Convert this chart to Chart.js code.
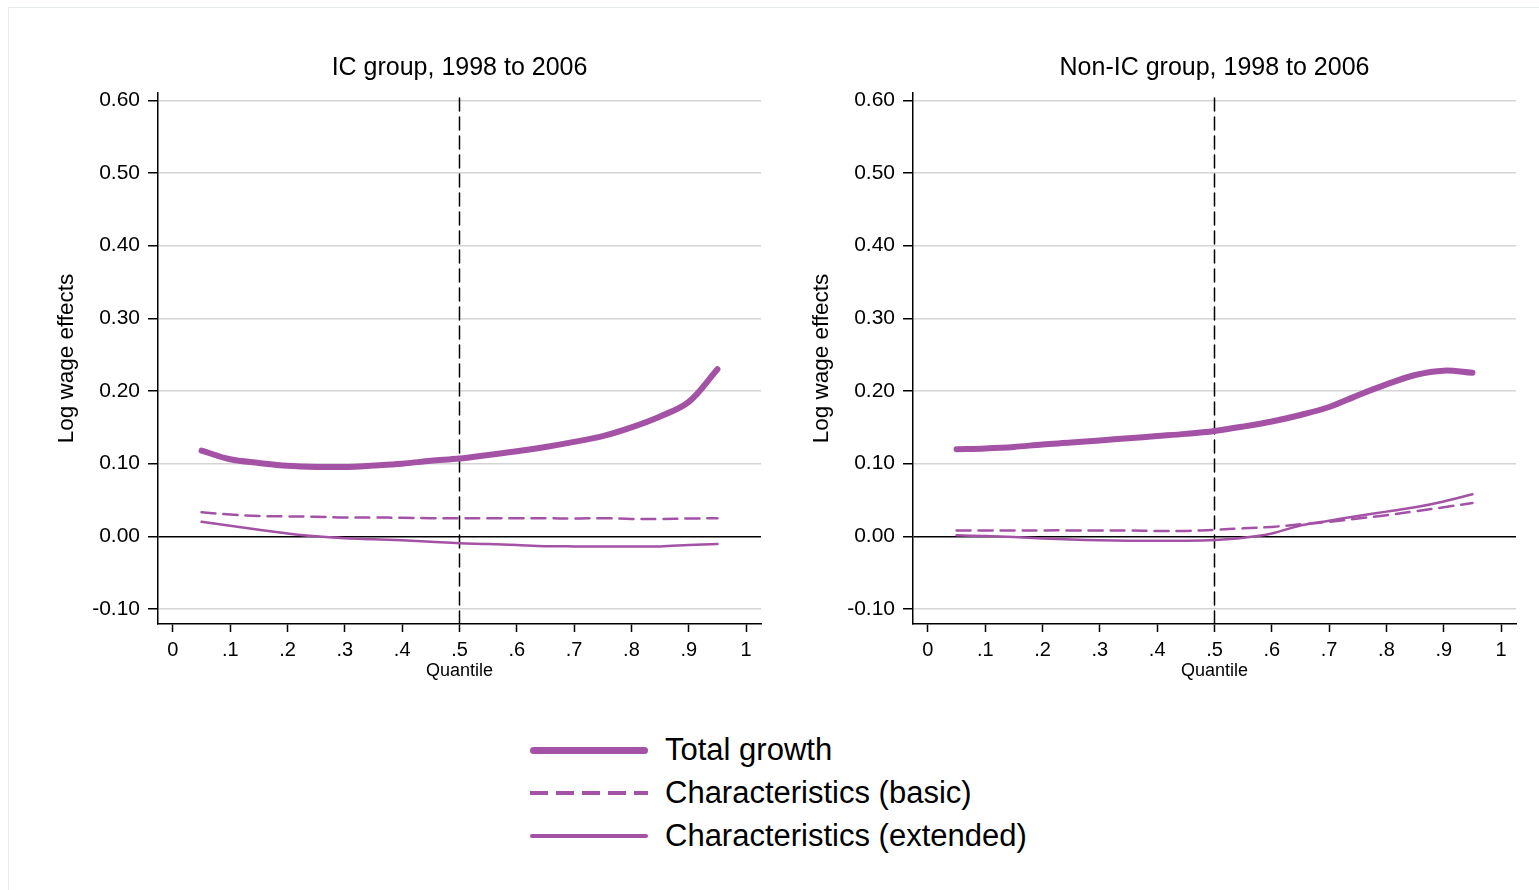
<!DOCTYPE html>
<html>
<head>
<meta charset="utf-8">
<script src="https://cdn.jsdelivr.net/npm/chart.js@4.4.1/dist/chart.umd.min.js"></script>
<style>
  html, body { margin: 0; padding: 0; background: #fff; }
  body { width: 1539px; height: 890px; position: relative; overflow: hidden; font-family: "Liberation Sans", Arial, sans-serif; }
  .frame { position: absolute; left: 8px; top: 7px; width: 1540px; height: 900px; border: 1px solid #e6eced; }
  .pane { position: absolute; top: 0; width: 770px; height: 700px; }
  .legend { position: absolute; left: 530px; top: 720px; }
  .row { position: absolute; left: 0; height: 40px; width: 600px; }
  .sw { position: absolute; left: 0; width: 118px; top: 50%; }
  .lbl { position: absolute; left: 135px; top: 50%; transform: translateY(-50%); font-size: 31px; color: #000; white-space: nowrap; }
</style>
</head>
<body>
<div class="frame"></div>
<div class="pane" style="left:0"><canvas id="c-ic"></canvas></div>
<div class="pane" style="left:755px"><canvas id="c-nonic"></canvas></div>

<div class="legend">
  <div class="row" style="top:10px">
    <div class="sw" style="height:7px;margin-top:-3.5px;background:#a452a6;border-radius:4px"></div>
    <div class="lbl">Total growth</div>
  </div>
  <div class="row" style="top:53px">
    <div class="sw" style="height:3.5px;margin-top:-1.75px;background:repeating-linear-gradient(90deg,#a452a6 0 18px,transparent 18px 26px)"></div>
    <div class="lbl">Characteristics (basic)</div>
  </div>
  <div class="row" style="top:96px">
    <div class="sw" style="height:3.5px;margin-top:-1.75px;background:#a452a6;border-radius:2px"></div>
    <div class="lbl">Characteristics (extended)</div>
  </div>
</div>

<script>
// quantiles where the decomposition is evaluated
const quantiles = [0.05, 0.10, 0.15, 0.20, 0.25, 0.30, 0.35, 0.40, 0.45, 0.50,
                   0.55, 0.60, 0.65, 0.70, 0.75, 0.80, 0.85, 0.90, 0.95];

// IC group, 1998 to 2006
const icTotal    = [0.118, 0.106, 0.101, 0.097, 0.0955, 0.0955, 0.0975, 0.100, 0.104, 0.107,
                    0.112, 0.117, 0.123, 0.130, 0.138, 0.150, 0.165, 0.185, 0.230];
const icBasic    = [0.033, 0.030, 0.028, 0.0275, 0.027, 0.026, 0.026, 0.0255, 0.025, 0.025,
                    0.025, 0.025, 0.025, 0.0245, 0.025, 0.024, 0.024, 0.0245, 0.025];
const icExtended = [0.020, 0.0145, 0.009, 0.004, 0.000, -0.0025, -0.004, -0.0055, -0.0075, -0.0095,
                    -0.0105, -0.012, -0.0135, -0.0138, -0.0138, -0.0138, -0.0138, -0.012, -0.0105];

// Non-IC group, 1998 to 2006
const nonTotal    = [0.120, 0.121, 0.123, 0.1265, 0.129, 0.132, 0.135, 0.138, 0.141, 0.145,
                     0.151, 0.158, 0.167, 0.178, 0.194, 0.209, 0.222, 0.228, 0.225];
const nonBasic    = [0.008, 0.008, 0.008, 0.0082, 0.0082, 0.008, 0.008, 0.0075, 0.0075, 0.009,
                     0.011, 0.013, 0.0165, 0.020, 0.0245, 0.029, 0.0345, 0.040, 0.046];
const nonExtended = [0.0014, 0.0005, -0.001, -0.003, -0.0045, -0.0055, -0.006, -0.006, -0.006, -0.005,
                     -0.002, 0.004, 0.015, 0.0215, 0.028, 0.034, 0.040, 0.048, 0.058];

const xTicks = [0, 0.1, 0.2, 0.3, 0.4, 0.5, 0.6, 0.7, 0.8, 0.9, 1];
const xTickLabels = ['0', '.1', '.2', '.3', '.4', '.5', '.6', '.7', '.8', '.9', '1'];
const yTicks = [-0.1, 0, 0.1, 0.2, 0.3, 0.4, 0.5, 0.6];
const yTickLabels = ['-0.10', '0.00', '0.10', '0.20', '0.30', '0.40', '0.50', '0.60'];
const medianQuantile = 0.5;

const PURPLE = '#a452a6';
const FONT = '"Liberation Sans", Arial, sans-serif';
const Y_MIN = -0.1206, Y_MAX = 0.61;
const X_MIN = -0.026, X_MAX = 1.026;

function pts(vals) {
  return quantiles.map((q, i) => ({ x: q, y: vals[i] }));
}

function makeChart(id, title, total, basic, extended) {
  const ctx = document.getElementById(id);
  return new Chart(ctx, {
    type: 'line',
    data: {
      datasets: [
        { data: pts(total), borderColor: PURPLE, borderWidth: 6, order: 1 },
        { data: pts(basic), borderColor: PURPLE, borderWidth: 2.5, borderDash: [14, 8], order: 2 },
        { data: pts(extended), borderColor: PURPLE, borderWidth: 2.5, order: 3 },
        {
          data: [{ x: medianQuantile, y: Y_MIN }, { x: medianQuantile, y: Y_MAX }],
          borderColor: '#000', borderWidth: 1.5, borderDash: [13, 6], order: 10, tension: 0,
        },
      ],
    },
    options: {
      responsive: false,
      animation: false,
      events: [],
      layout: { padding: { left: 0, right: 9, top: 0, bottom: 0 } },
      elements: {
        point: { radius: 0 },
        line: { tension: 0.35, borderCapStyle: 'round', borderJoinStyle: 'round', fill: false },
      },
      plugins: {
        legend: { display: false },
        tooltip: { enabled: false },
        title: {
          display: true, text: title, color: '#000', fullSize: false,
          font: { family: FONT, size: 25, weight: 'normal' },
          padding: { top: 53, bottom: 10 },
        },
      },
      scales: {
        x: {
          type: 'linear', min: X_MIN, max: X_MAX,
          afterFit: s => { s.height = 76; },
          afterBuildTicks: s => { s.ticks = xTicks.map(v => ({ value: v })); },
          ticks: {
            autoSkip: false, maxRotation: 0, color: '#000', padding: 6,
            font: { family: FONT, size: 20 },
            callback: (v, i) => xTickLabels[i],
          },
          grid: { drawOnChartArea: false, drawTicks: true, tickLength: 8, tickColor: '#000', tickWidth: 1.5 },
          border: { display: true, color: '#000', width: 1.5 },
          title: {
            display: true, text: 'Quantile', color: '#000',
            font: { family: FONT, size: 18 }, padding: { top: 0, bottom: 18 },
          },
        },
        y: {
          type: 'linear', min: Y_MIN, max: Y_MAX,
          afterFit: s => { s.width = 158; },
          afterBuildTicks: s => { s.ticks = yTicks.map(v => ({ value: v })); },
          ticks: {
            autoSkip: false, color: '#000', padding: 8,
            font: { family: FONT, size: 21 },
            callback: (v, i) => yTickLabels[i],
          },
          grid: {
            drawTicks: true, tickLength: 10, tickColor: '#000', tickWidth: 1.5,
            lineWidth: 1.5,
            color: c => (c.tick && Math.abs(c.tick.value) < 1e-9) ? '#000' : '#d4d4d4',
          },
          border: { display: true, color: '#000', width: 1.5 },
          title: {
            display: true, text: 'Log wage effects', color: '#000',
            font: { family: FONT, size: 22.5 }, padding: { top: 53, bottom: 0 },
          },
        },
      },
    },
  });
}

function setupCanvas(id) {
  const c = document.getElementById(id);
  c.width = 770; c.height = 700;
  c.style.width = '770px'; c.style.height = '700px';
}

setupCanvas('c-ic');
setupCanvas('c-nonic');
makeChart('c-ic', 'IC group, 1998 to 2006', icTotal, icBasic, icExtended);
makeChart('c-nonic', 'Non-IC group, 1998 to 2006', nonTotal, nonBasic, nonExtended);
</script>
</body>
</html>
